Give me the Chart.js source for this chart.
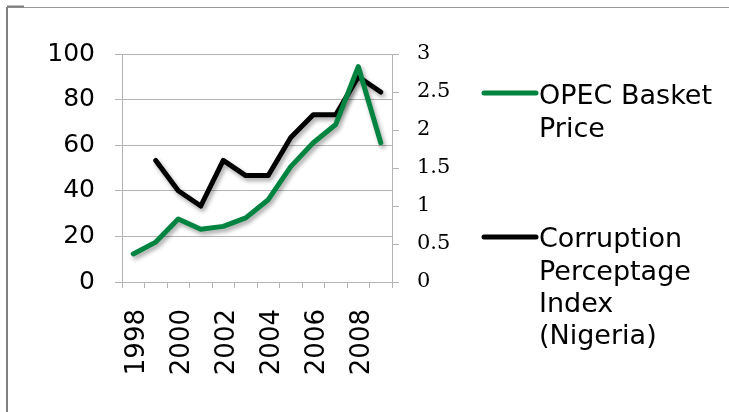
<!DOCTYPE html>
<html>
<head>
<meta charset="utf-8">
<script src="https://cdn.jsdelivr.net/npm/chart.js@4.4.0/dist/chart.umd.min.js"></script>
<style>
  html, body { margin: 0; padding: 0; background: #fff; }
  #wrap { position: relative; width: 729px; height: 412px; }
  canvas { display: block; }
</style>
</head>
<body>
<div id="wrap"><canvas id="c" width="729" height="412"></canvas></div>
<script>
const years = ['1998','1999','2000','2001','2002','2003','2004','2005','2006','2007','2008','2009'];
const opecPrice = [12.3, 17.5, 27.6, 23.1, 24.4, 28.1, 36.1, 50.6, 61.1, 69.1, 94.5, 61.1];
const corruptionIndex = [null, 1.6, 1.2, 1.0, 1.6, 1.4, 1.4, 1.9, 2.2, 2.2, 2.7, 2.5];
const leftTicks = [0, 20, 40, 60, 80, 100];
const rightTicks = [0, 0.5, 1, 1.5, 2, 2.5, 3];
const seriesNames = ['OPEC Basket Price', 'Corruption Perceptage Index (Nigeria)'];

const GREEN = '#00843f';
const GRID = '#b4b4b4';
const SANS = '"DejaVu Sans", Verdana, sans-serif';
const SERIF = '"DejaVu Serif", serif';

const frameAndShadow = {
  id: 'frameAndShadow',
  beforeDraw(chart) {
    const ctx = chart.ctx;
    ctx.save();
    ctx.fillStyle = '#fff';
    ctx.fillRect(0, 0, chart.width, chart.height);
    ctx.strokeStyle = '#9a9a9a';
    ctx.lineWidth = 1;
    ctx.beginPath();
    ctx.moveTo(7, 7.5); ctx.lineTo(chart.width, 7.5);
    ctx.stroke();
    ctx.strokeStyle = '#808080';
    ctx.lineWidth = 2;
    ctx.beginPath();
    ctx.moveTo(7, 7); ctx.lineTo(7, chart.height);
    ctx.moveTo(7, 6.5); ctx.lineTo(24, 6.5);
    ctx.stroke();
    ctx.restore();
  },
  beforeDatasetDraw(chart) {
    const ctx = chart.ctx;
    ctx.save();
    ctx.shadowColor = 'rgba(0,0,0,0.35)';
    ctx.shadowBlur = 4;
    ctx.shadowOffsetX = 2;
    ctx.shadowOffsetY = 3;
  },
  afterDatasetDraw(chart) {
    chart.ctx.restore();
  }
};

const sideLegend = {
  id: 'sideLegend',
  afterDraw(chart) {
    const ctx = chart.ctx;
    const lineYs = [93, 237];
    const baselines = [104.3, 247.3];
    const lineH = 32.2;
    ctx.save();
    ctx.font = '27px ' + SANS;
    ctx.textBaseline = 'alphabetic';
    ctx.textAlign = 'left';
    chart.data.datasets.forEach((ds, i) => {
      const y0 = lineYs[i];
      ctx.strokeStyle = ds.borderColor;
      ctx.lineWidth = 5;
      ctx.lineCap = 'round';
      ctx.beginPath();
      ctx.moveTo(484, y0); ctx.lineTo(536, y0);
      ctx.stroke();
      const words = ds.label.split(' ');
      const lines = [];
      let cur = '';
      words.forEach(w => {
        const t = cur ? cur + ' ' + w : w;
        if (ctx.measureText(t).width > 184 && cur) { lines.push(cur); cur = w; }
        else cur = t;
      });
      if (cur) lines.push(cur);
      ctx.fillStyle = '#000';
      lines.forEach((ln, k) => ctx.fillText(ln, 539, baselines[i] + k * lineH));
    });
    ctx.restore();
  }
};

new Chart(document.getElementById('c'), {
  type: 'line',
  data: {
    labels: years,
    datasets: [
      {
        label: seriesNames[0],
        data: opecPrice,
        borderColor: GREEN,
        backgroundColor: GREEN,
        borderWidth: 5,
        tension: 0,
        pointRadius: 0,
        borderCapStyle: 'round',
        borderJoinStyle: 'round',
        yAxisID: 'y'
      },
      {
        label: seriesNames[1],
        data: corruptionIndex,
        borderColor: '#000000',
        backgroundColor: '#000000',
        borderWidth: 5,
        tension: 0,
        pointRadius: 0,
        borderCapStyle: 'round',
        borderJoinStyle: 'round',
        yAxisID: 'y1'
      }
    ]
  },
  options: {
    responsive: false,
    animation: false,
    events: [],
    layout: { padding: { top: 54, left: 0, right: 0, bottom: 0 } },
    plugins: { legend: { display: false }, tooltip: { enabled: false } },
    scales: {
      x: {
        type: 'category',
        offset: true,
        afterFit(s) { s.height = 130; },
        grid: { display: true, offset: true, drawOnChartArea: false, tickLength: 6, color: GRID, lineWidth: 1 },
        border: { display: true, color: GRID },
        ticks: {
          autoSkip: false,
          maxRotation: 90,
          minRotation: 90,
          padding: 21,
          labelOffset: 4,
          color: '#000',
          font: { family: SANS, size: 26 },
          callback: (v, i) => (i % 2 === 0 ? years[i] : '')
        }
      },
      y: {
        position: 'left',
        min: 0,
        max: 100,
        afterFit(s) { s.width = 122; },
        afterBuildTicks(s) { s.ticks = leftTicks.map(v => ({ value: v })); },
        grid: { color: GRID, tickLength: 7, lineWidth: 1 },
        border: { display: true, color: GRID },
        ticks: { padding: 20, color: '#000', font: { family: SANS, size: 25 }, callback: v => String(v) }
      },
      y1: {
        position: 'right',
        min: 0,
        max: 3,
        afterFit(s) { s.width = 337; },
        afterBuildTicks(s) { s.ticks = rightTicks.map(v => ({ value: v })); },
        grid: { drawOnChartArea: false, color: GRID, tickLength: 7, lineWidth: 1 },
        border: { display: true, color: GRID },
        ticks: { padding: 18, color: '#000', font: { family: SERIF, size: 21 }, callback: v => String(v) }
      }
    }
  },
  plugins: [frameAndShadow, sideLegend]
});
</script>
</body>
</html>
